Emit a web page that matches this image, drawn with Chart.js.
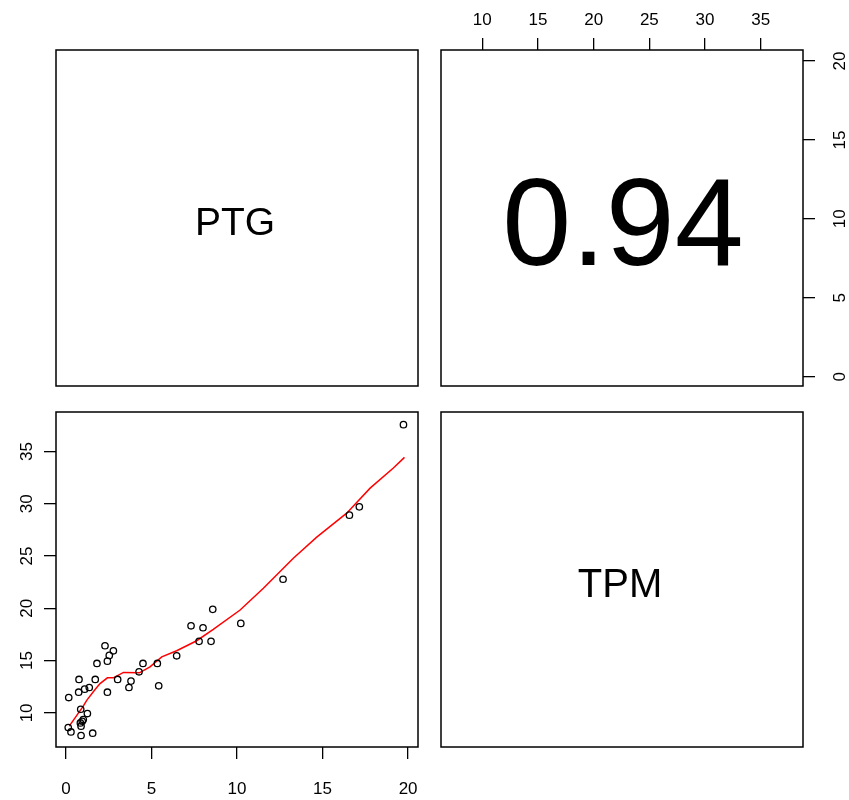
<!DOCTYPE html>
<html>
<head>
<meta charset="utf-8">
<script src="https://cdn.jsdelivr.net/npm/chart.js@4/dist/chart.umd.min.js"></script>
<style>
  body { margin: 0; background: #fff; }
  canvas { position: absolute; }
</style>
</head>
<body>
<canvas id="c1" width="430" height="400" style="left:0;top:0"></canvas>
<canvas id="c2" width="419" height="400" style="left:430px;top:0"></canvas>
<canvas id="c3" width="430" height="400" style="left:0;top:400px"></canvas>
<canvas id="c4" width="419" height="400" style="left:430px;top:400px"></canvas>
<script>
// variables of the pairs plot
const varNames = ['PTG', 'TPM'];
const corrLabel = '0.94';

// observations (PTG, TPM)
const ptg = [2.28, 2.77, 2.53, 2.42, 1.81, 0.76, 1.71, 3.02, 0.16, 0.74,
             1.09, 1.36, 2.42, 3.80, 3.68, 4.27, 4.50, 5.34, 5.42, 6.47,
             7.31, 8.01, 7.78, 8.48, 8.58, 10.22, 0.86, 1.25, 0.95, 0.84,
             0.88, 0.13, 0.29, 0.88, 1.56, 1.01, 19.73, 17.15, 16.57, 12.69];
const tpm = [16.42, 15.94, 15.50, 14.95, 14.73, 13.20, 13.20, 13.20, 11.47, 11.98,
             12.27, 12.43, 11.98, 13.04, 12.43, 13.93, 14.73, 14.73, 12.59, 15.46,
             18.33, 18.14, 16.84, 16.84, 19.90, 18.56, 10.35, 9.94, 9.20, 9.04,
             8.73, 8.60, 8.18, 7.84, 8.06, 9.37, 37.56, 29.70, 28.91, 22.78];

// smoother (red line)
const fitX = [0.19, 1.01, 1.21, 1.70, 1.99, 2.42, 2.77, 3.36, 4.29, 4.91, 5.60,
              6.47, 7.64, 8.61, 10.18, 11.54, 13.29, 14.66, 16.41, 17.78, 19.14, 19.79];
const fitY = [8.73, 10.64, 11.2, 12.24, 12.8, 13.35, 13.35, 13.87, 13.83, 14.4, 15.36,
              15.94, 16.9, 17.99, 19.84, 21.92, 24.79, 26.8, 29.1, 31.49, 33.41, 34.43];

// axis ticks
const ptgTicks = [0, 5, 10, 15, 20];
const tpmTicks = [10, 15, 20, 25, 30, 35];

const FONT = 'Liberation Sans, Arial, sans-serif';

// box round each panel, plus optional centred text
const boxPlugin = {
  id: 'box',
  afterDraw(chart, args, opts) {
    const a = chart.chartArea, c = chart.ctx;
    c.save();
    c.strokeStyle = '#000';
    c.lineWidth = 1.5;
    c.strokeRect(a.left, a.top, a.right - a.left, a.bottom - a.top);
    if (opts.text) {
      c.fillStyle = '#000';
      c.font = opts.size + 'px ' + FONT;
      c.textAlign = 'center';
      c.textBaseline = 'alphabetic';
      c.fillText(opts.text, (a.left + a.right) / 2 + (opts.dx || 0),
                 (a.top + a.bottom) / 2 + opts.size * 0.358 + (opts.dy || 0));
    }
    c.restore();
  }
};
Chart.register(boxPlugin);

function axis(pos, min, max, tickVals, size, pad, rotated) {
  return {
    type: 'linear',
    position: pos,
    min: min,
    max: max,
    afterBuildTicks: s => { s.ticks = tickVals.map(v => ({ value: v })); },
    afterFit: s => {
      if (pos === 'top' || pos === 'bottom') s.height = size; else s.width = size;
      s.paddingTop = s.paddingBottom = s.paddingLeft = s.paddingRight = 0;
    },
    grid: { drawOnChartArea: false, drawTicks: true, tickLength: 12, color: '#000', lineWidth: 1.3 },
    border: { display: false },
    ticks: {
      color: '#000',
      font: { family: FONT, size: 17 },
      padding: pad,
      autoSkip: false,
      minRotation: rotated ? 90 : 0,
      maxRotation: rotated ? 90 : 0,
      crossAlign: 'center'
    }
  };
}

function hidden(min, max) {
  return { type: 'linear', display: false, min: min, max: max };
}

const base = {
  responsive: false,
  animation: false,
  events: [],
  plugins: { legend: { display: false }, tooltip: { enabled: false } }
};

// top-left: PTG label
new Chart(document.getElementById('c1'), {
  type: 'scatter',
  data: { datasets: [] },
  options: Object.assign({}, base, {
    layout: { padding: { left: 56, top: 50, right: 12, bottom: 14 } },
    scales: { x: hidden(0, 1), y: hidden(0, 1) },
    plugins: Object.assign({}, base.plugins, { box: { text: varNames[0], size: 39, dx: -2, dy: 3 } })
  })
});

// top-right: correlation, top axis TPM, right axis PTG
new Chart(document.getElementById('c2'), {
  type: 'scatter',
  data: { datasets: [] },
  options: Object.assign({}, base, {
    layout: { padding: { left: 11, top: 0, right: 0, bottom: 14 } },
    scales: {
      x: axis('top', 6.29, 38.8, tpmTicks, 50, 18, false),
      y: axis('right', -0.59, 20.70, ptgTicks, 46, 16, true)
    },
    plugins: Object.assign({}, base.plugins, { box: { text: corrLabel, size: 124, dx: 1, dy: 3 } })
  })
});

// bottom-left: scatter with smoother
new Chart(document.getElementById('c3'), {
  type: 'scatter',
  data: {
    datasets: [
      {
        data: ptg.map((v, i) => ({ x: v, y: tpm[i] })),
        pointStyle: 'circle',
        pointRadius: 3.2,
        borderColor: '#000',
        backgroundColor: 'rgba(0,0,0,0)',
        borderWidth: 1.3
      },
      {
        data: fitX.map((v, i) => ({ x: v, y: fitY[i] })),
        showLine: true,
        pointRadius: 0,
        borderColor: '#ff0000',
        borderWidth: 1.5,
        tension: 0
      }
    ]
  },
  options: Object.assign({}, base, {
    layout: { padding: { left: 0, top: 12, right: 12, bottom: 0 } },
    scales: {
      x: axis('bottom', -0.585, 20.58, ptgTicks, 53, 30, false),
      y: axis('left', 6.74, 38.77, tpmTicks, 56, 7, true)
    }
  })
});

// bottom-right: TPM label
new Chart(document.getElementById('c4'), {
  type: 'scatter',
  data: { datasets: [] },
  options: Object.assign({}, base, {
    layout: { padding: { left: 11, top: 12, right: 46, bottom: 53 } },
    scales: { x: hidden(0, 1), y: hidden(0, 1) },
    plugins: Object.assign({}, base.plugins, { box: { text: varNames[1], size: 40, dx: -2, dy: 3 } })
  })
});
</script>
</body>
</html>
